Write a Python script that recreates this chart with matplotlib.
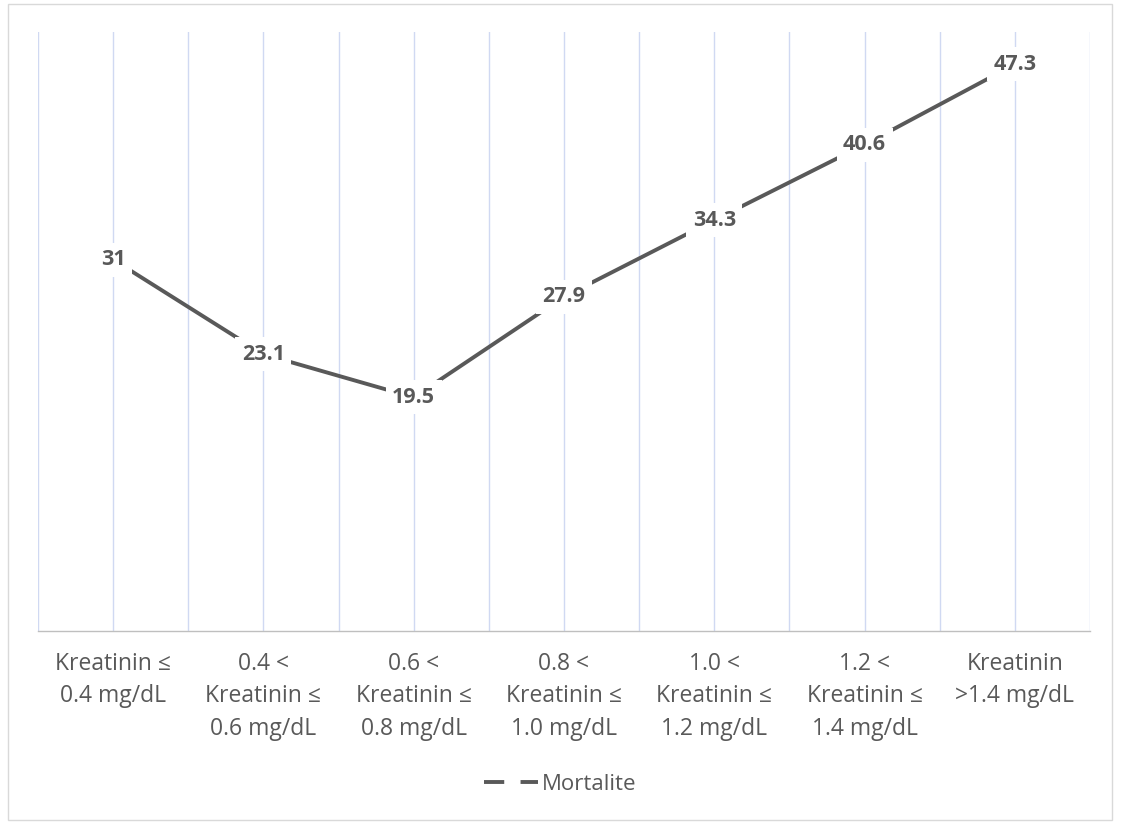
import matplotlib.pyplot as plt
from matplotlib.lines import Line2D
from matplotlib.patches import Rectangle

categories = [
    "Kreatinin ≤\n0.4 mg/dL",
    "0.4 <\nKreatinin ≤\n0.6 mg/dL",
    "0.6 <\nKreatinin ≤\n0.8 mg/dL",
    "0.8 <\nKreatinin ≤\n1.0 mg/dL",
    "1.0 <\nKreatinin ≤\n1.2 mg/dL",
    "1.2 <\nKreatinin ≤\n1.4 mg/dL",
    "Kreatinin\n>1.4 mg/dL",
]
mortalite = [31, 23.1, 19.5, 27.9, 34.3, 40.6, 47.3]
series_name = "Mortalite"

text_col = "#595959"
grid_col = "#D0D9F2"

plt.rcParams["font.family"] = ["Open Sans", "DejaVu Sans"]

fig = plt.figure(figsize=(11.21, 8.24), dpi=100)
ax = fig.add_axes([38 / 1121, 1 - 631 / 824, (1090 - 38) / 1121, (631 - 32) / 824])

n = len(categories)
x = list(range(n))
ax.set_xlim(-0.5, n - 0.5)
ax.set_ylim(0, 50)

# vertical gridlines at centres and category borders
for i in range(n):
    ax.axvline(i, color=grid_col, lw=1.0, zorder=0)
for i in range(n + 1):
    ax.axvline(i - 0.5, color=grid_col, lw=1.0, zorder=0)

ax.plot(x, mortalite, color=text_col, lw=2.8, solid_capstyle="butt", zorder=2)

for xi, v in zip(x, mortalite):
    ax.text(xi, v, f"{v:g}", ha="center", va="center", fontsize=15.5,
            fontweight="bold", color=text_col, zorder=3,
            bbox=dict(boxstyle="square,pad=0.3", fc="white", ec="none"))

for s in ["top", "right", "left"]:
    ax.spines[s].set_visible(False)
ax.spines["bottom"].set_color("#BFBFBF")
ax.spines["bottom"].set_linewidth(1.0)
ax.set_yticks([])
ax.set_xticks(x)
ax.set_xticklabels(categories, fontsize=16.5, color=text_col, linespacing=1.48,
                   va="top")
ax.tick_params(axis="x", length=0, pad=15)

handle = Line2D([0], [0], color=text_col, lw=2.8, linestyle=(0, (5.2, 4.2)))
fig.legend([handle], [series_name], loc="center", bbox_to_anchor=(0.5, 1 - 784 / 824),
           frameon=False, fontsize=16, labelcolor=text_col, handlelength=2.4,
           handletextpad=0.2)

# outer chart border
fig.patches.append(Rectangle((8 / 1121, 4 / 824), 1104 / 1121, 816 / 824,
                             transform=fig.transFigure, fill=False,
                             ec="#D9D9D9", lw=1.0))

fig.savefig("out.png", dpi=100)
